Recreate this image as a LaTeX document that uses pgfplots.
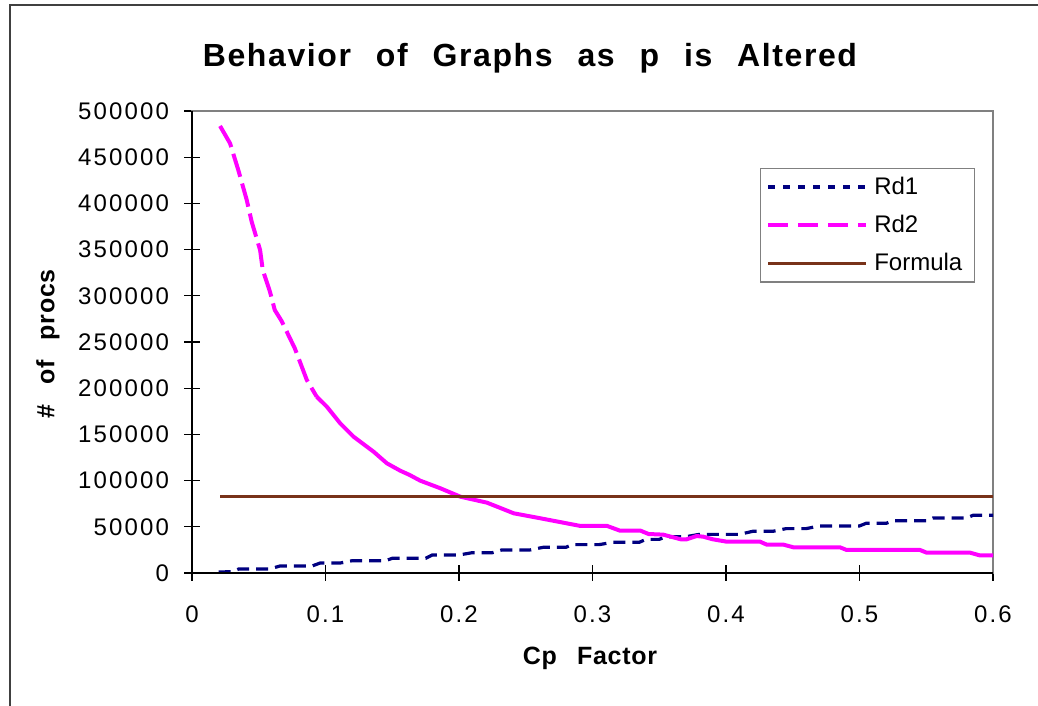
\documentclass[border=0pt]{standalone}
\usepackage{fontspec}
\setmainfont{Liberation Sans}
\usepackage{pgfplots}
\pgfplotsset{compat=1.18}
\definecolor{rdnavy}{RGB}{0,0,128}
\definecolor{rdmag}{RGB}{255,0,255}
\definecolor{fbrown}{RGB}{120,50,25}
\definecolor{framegray}{RGB}{128,128,128}
\begin{document}
\begin{tikzpicture}
\useasboundingbox (0,0) rectangle (519pt,353pt);
\draw[black!75, line width=0.6pt] (5pt,0) -- (5pt,350.5pt) -- (519pt,350.5pt);
\begin{axis}[
  at={(96pt,66.5pt)}, anchor=south west,
  scale only axis, width=400.5pt, height=231pt,
  xmin=0, xmax=0.6, ymin=0, ymax=500000,
  xtick={0,0.1,0.2,0.3,0.4,0.5,0.6},
  xticklabels={0,0.1,0.2,0.3,0.4,0.5,0.6},
  ytick={0,50000,100000,150000,200000,250000,300000,350000,400000,450000,500000},
  scaled y ticks=false,
  /pgf/number format/fixed,
  /pgf/number format/1000 sep={},
  /pgf/number format/assume math mode=true,
  tick align=center, xtick pos=bottom, ytick pos=left,
  major tick length=8pt,
  tick style={black, line width=0.6pt},
  axis line style={framegray, line width=1pt},
  ticklabel style={font=\fontsize{12}{14}\selectfont\addfontfeature{LetterSpace=9}},
  xticklabel style={yshift=-9pt},
  yticklabel style={xshift=-4pt},
  legend style={at={(axis description cs:0.9775,0.8766)}, anchor=north east,
    draw=framegray, line width=0.7pt, fill=white, font=\fontsize{12}{14}\selectfont,
    inner xsep=3pt, inner ysep=3pt, row sep=7pt,
    nodes={inner ysep=1pt, inner xsep=3pt, anchor=west}},
  legend cell align=left,
  clip=false,
]
\addplot[rdnavy, line width=1.6pt, dash pattern=on 6pt off 3.5pt,
  legend image code/.code={\draw[rdnavy, line width=1.6pt, dash pattern=on 3.5pt off 4pt] (0pt,0pt) -- (49pt,0pt);}]
coordinates {
(0.02,1000) (0.03,1500) (0.035,4300) (0.058,4300) (0.066,7600) (0.09,7600)
(0.096,10800) (0.111,10800) (0.12,13300) (0.145,13300) (0.15,15900) (0.175,15900)
(0.18,19500) (0.2,19500) (0.21,22000) (0.225,22000) (0.232,24900) (0.253,24900)
(0.263,27800) (0.28,27800) (0.285,30700) (0.305,30700) (0.315,33200) (0.335,33200)
(0.34,36400) (0.35,36400) (0.355,39300) (0.37,39300) (0.38,41800) (0.41,41800)
(0.42,45100) (0.435,45100) (0.445,48000) (0.46,48000) (0.47,50900) (0.5,50900)
(0.505,53800) (0.52,53800) (0.525,56600) (0.55,56600) (0.555,59500) (0.58,59500)
(0.585,62400) (0.6,62400)
};
\addlegendentry{Rd1}
\addplot[rdmag, line width=2pt, dash pattern=on 12pt off 3.5pt,
  legend image code/.code={\draw[rdmag, line width=2pt, dash pattern=on 10pt off 5pt] (0pt,0pt) -- (49pt,0pt);}]
coordinates {
(0.021,483800) (0.0285,465000) (0.0347,436000) (0.041,403700) (0.0447,380200)
(0.051,349600) (0.053,328000) (0.0584,304400) (0.062,284600) (0.067,273000)
(0.077,243200) (0.086,208900) (0.0934,190800)
};
\addlegendentry{Rd2}
\addplot[rdmag, line width=2pt, forget plot]
coordinates {
(0.0934,190800) (0.101,180000) (0.111,162000) (0.121,147500) (0.136,131300)
(0.146,118700) (0.156,110700) (0.163,106100) (0.171,99900) (0.186,91700)
(0.201,82600) (0.221,76100) (0.241,64600) (0.261,59200) (0.291,50900)
(0.311,50900) (0.3206,45800) (0.336,45800) (0.342,42200) (0.353,41500)
(0.366,36500) (0.3705,36500) (0.378,40000) (0.383,39300) (0.39,36500)
(0.4005,33900) (0.4255,33900) (0.4305,30700) (0.443,30700) (0.4505,27800)
(0.4854,27800) (0.4904,24900) (0.5453,24900) (0.5503,22000) (0.5828,22000)
(0.590,19100) (0.6,19100)
};
\addplot[fbrown, line width=1.5pt,
  legend image code/.code={\draw[fbrown, line width=1.5pt] (0pt,0pt) -- (49pt,0pt);}]
coordinates {(0.021,82600) (0.6,82600)};
\addlegendentry{Formula}
\draw[black, line width=0.8pt] (rel axis cs:0,1) -- (rel axis cs:0,0) -- (rel axis cs:1,0);
\end{axis}
\node[font=\bfseries\fontsize{16}{19}\selectfont\addfontfeature{LetterSpace=5}] at (265pt,324pt) {Behavior\hspace{0.45em} of\hspace{0.45em} Graphs\hspace{0.45em} as\hspace{0.45em} p\hspace{0.45em} is\hspace{0.45em} Altered};
\node[font=\bfseries\fontsize{12.5}{15}\selectfont\addfontfeature{LetterSpace=3}, rotate=90] at (24pt,181pt) {\#\hspace{0.5em} of\hspace{0.5em} procs};
\node[font=\bfseries\fontsize{12.5}{15}\selectfont\addfontfeature{LetterSpace=3}] at (295pt,24pt) {Cp\hspace{0.5em} Factor};
\end{tikzpicture}
\end{document}
